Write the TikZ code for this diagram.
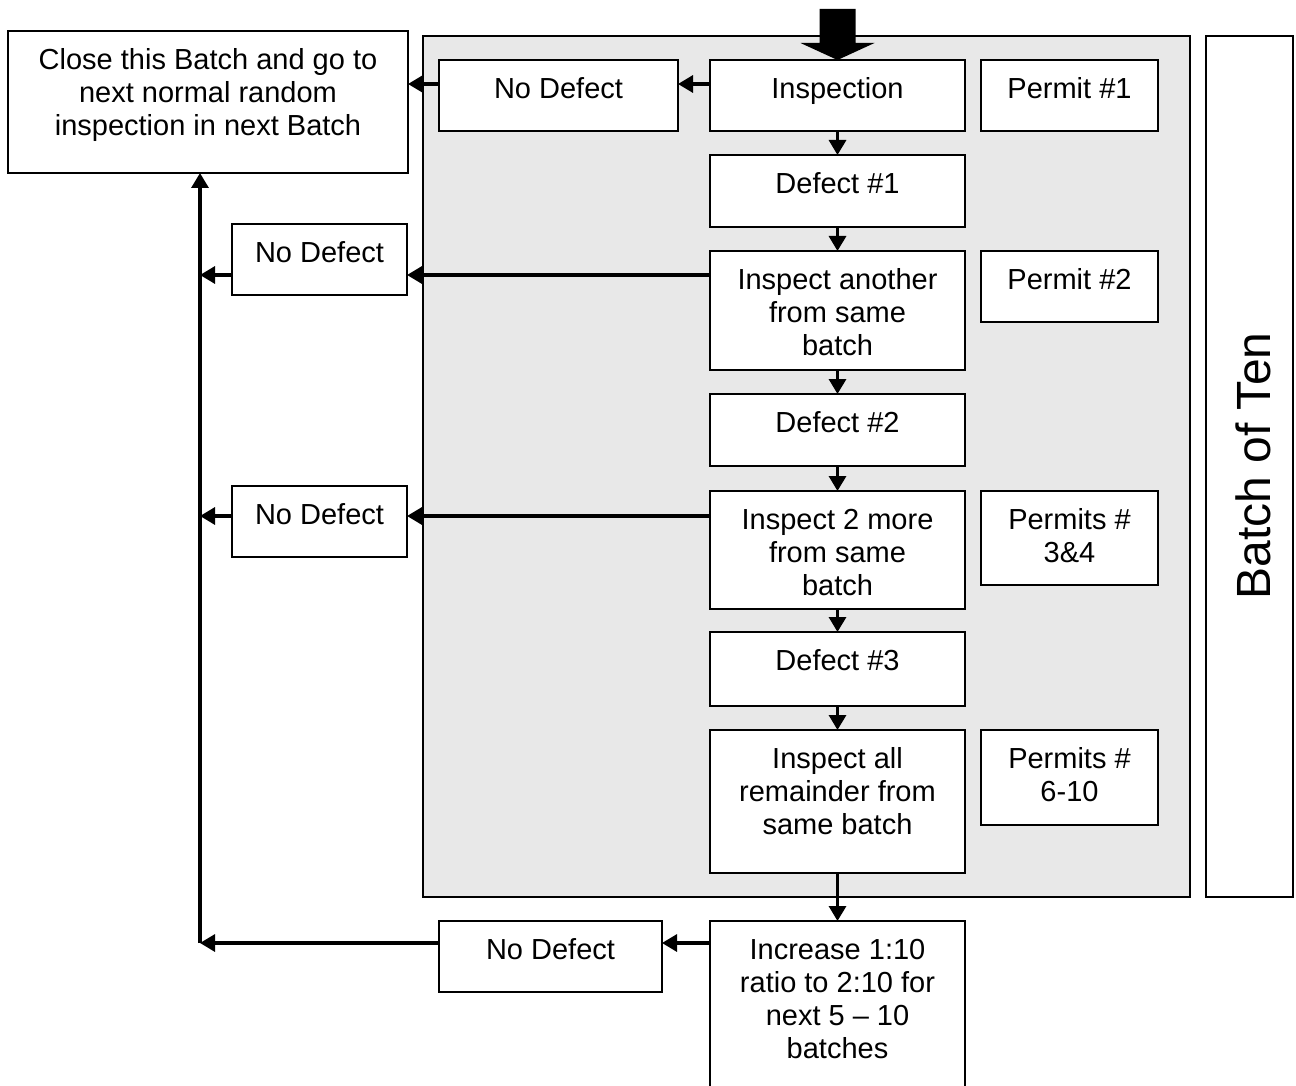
\documentclass[tikz,border=0pt]{standalone}
\usepackage{fontspec}
\setmainfont{Liberation Sans}
\usetikzlibrary{arrows.meta}
\definecolor{panel}{RGB}{232,232,232}
% name, x1, y1, x2, y2, text
\newcommand\mkbox[6]{%
  \node[boxst, minimum width={#4-#2}, minimum height={#5-#3}] (#1) at ({(#2+#4)/2},{(#3+#5)/2}) {};
  \node[txtst] (#1t) at ([yshift=-15pt]#1.north) {\rule{0pt}{23pt}#6};
}
\begin{document}
\begin{tikzpicture}[x=1pt,y=-1pt,
  boxst/.style={draw, line width=1.8pt, fill=white, inner sep=0pt, outer sep=0pt},
  txtst/.style={anchor=north, align=center, inner sep=0pt, font=\fontsize{29}{33}\selectfont},
  conn/.style={line width=3.2pt, -{Triangle[width=17pt,length=15pt]}},
  ]
\useasboundingbox (0,0) rectangle (1296,1086);
\clip (0,0) rectangle (1296,1086);

% container panels
\node[draw, line width=1.8pt, fill=panel, inner sep=0pt, minimum width=767, minimum height=861] (panel) at (806.5,466.5) {};
\node[boxst, minimum width=87, minimum height=861] (batch) at (1249.5,466.5) {};
\node[rotate=90, inner sep=0pt, font=\fontsize{48}{50}\selectfont] (batcht) at (1253,466) {Batch of Ten};

% boxes
\mkbox{close}{8}{31}{408}{173}{Close this Batch and go to\\next normal random\\inspection in next Batch}
\mkbox{nd1}{439}{60}{678}{131}{No Defect}
\mkbox{insp}{710}{60}{965}{131}{Inspection}
\mkbox{p1}{981}{60}{1158}{131}{Permit \#1}
\mkbox{d1}{710}{155}{965}{227}{Defect \#1}
\mkbox{ia}{710}{251}{965}{370}{Inspect another\\from same\\batch}
\mkbox{p2}{981}{251}{1158}{322}{Permit \#2}
\mkbox{nd2}{232}{224}{407}{295}{No Defect}
\mkbox{d2}{710}{394}{965}{466}{Defect \#2}
\mkbox{im}{710}{491}{965}{609}{Inspect 2 more\\from same\\batch}
\mkbox{p34}{981}{491}{1158}{585}{Permits \#\\3\&4}
\mkbox{nd3}{232}{486}{407}{557}{No Defect}
\mkbox{d3}{710}{632}{965}{706}{Defect \#3}
\mkbox{iall}{710}{730}{965}{873}{Inspect all\\remainder from\\same batch}
\mkbox{p610}{981}{730}{1158}{825}{Permits \#\\6-10}
\mkbox{inc}{710}{921}{965}{1120}{Increase 1:10\\ratio to 2:10 for\\next 5 -- 10\\batches}
\mkbox{nd4}{439}{921}{662}{992}{No Defect}

% big entry arrow
\coordinate (entry) at (insp.north);
\fill ([xshift=-18pt]entry |- 0,9) -- ([xshift=18pt]entry |- 0,9) -- ([xshift=18pt]entry |- 0,43)
  -- ([xshift=37pt]entry |- 0,43) -- (entry) -- ([xshift=-37pt]entry |- 0,43)
  -- ([xshift=-18pt]entry |- 0,43) -- cycle;

% vertical flow
\draw[conn] (insp.south) -- (d1.north);
\draw[conn] (d1.south) -- (ia.north);
\draw[conn] (ia.south) -- (d2.north);
\draw[conn] (d2.south) -- (im.north);
\draw[conn] (im.south) -- (d3.north);
\draw[conn] (d3.south) -- (iall.north);
\draw[conn] (iall.south) -- (inc.north);

% no-defect branches
\draw[conn] (insp.west |- 0,84) -- (nd1.east |- 0,84);
\draw[conn] (nd1.west |- 0,84) -- (close.east |- 0,84);
\draw[conn] (ia.west |- 0,275) -- (nd2.east |- 0,275);
\draw[conn] (im.west |- 0,516) -- (nd3.east |- 0,516);
\draw[conn] (inc.west |- 0,943) -- (nd4.east |- 0,943);

% return spine
\coordinate (spine) at (200,943);
\draw[conn] (spine) -- (spine |- close.south);
\draw[conn] (nd2.west |- 0,275) -- (spine |- 0,275);
\draw[conn] (nd3.west |- 0,516) -- (spine |- 0,516);
\draw[conn] (nd4.west |- 0,943) -- (spine);
\end{tikzpicture}
\end{document}
